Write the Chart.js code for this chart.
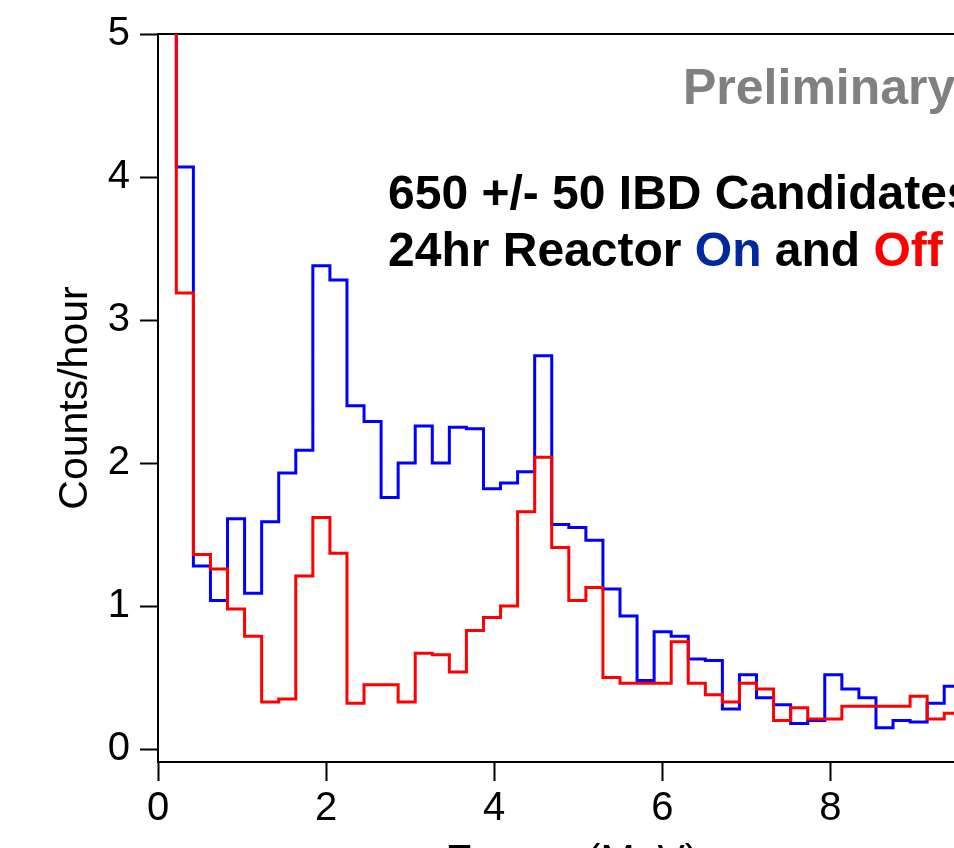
<!DOCTYPE html>
<html>
<head>
<meta charset="utf-8">
<title>IBD candidates - reactor on / off</title>
<script src="https://cdn.jsdelivr.net/npm/chart.js@4.4.1/dist/chart.umd.min.js"></script>
<style>
    html, body { margin: 0; padding: 0; background: #fff; overflow: hidden; }
    #wrap { position: relative; width: 986px; height: 848px; }
    .note {
        position: absolute;
        font-family: "Liberation Sans", Arial, sans-serif;
        font-weight: bold;
        font-size: 48px;
        line-height: 48px;
        white-space: nowrap;
        color: #000;
    }
</style>
</head>
<body>
<div id="wrap">
    <canvas id="spectrum" width="986" height="848"></canvas>
    <div class="note" style="left:683px; top:62px; font-size:50px; line-height:50px; color:#808080;">Preliminary</div>
    <div class="note" style="left:388px; top:169px;">650 +/- 50 IBD Candidates</div>
    <div class="note" style="left:388px; top:226px;">24hr Reactor <span style="color:#0028a0;">On</span> and <span style="color:#ff0000;">Off</span></div>
</div>
<script>
// bin edges in MeV (one more edge than bins)
const binEdges = [
    0.015, 0.218, 0.421, 0.624, 0.827, 1.030, 1.233, 1.436, 1.639, 1.842,
    2.045, 2.248, 2.451, 2.654, 2.857, 3.060, 3.263, 3.466, 3.669, 3.872,
    4.075, 4.278, 4.481, 4.684, 4.887, 5.090, 5.293, 5.496, 5.699, 5.902,
    6.105, 6.308, 6.511, 6.714, 6.917, 7.120, 7.323, 7.526, 7.729, 7.932,
    8.135, 8.338, 8.541, 8.744, 8.947, 9.150, 9.353, 9.556
];

// counts/hour, reactor on (first bin is off scale)
const reactorOn = [
    6.5, 4.07, 1.28, 1.04, 1.61, 1.09, 1.59, 1.93, 2.09, 3.38,
    3.28, 2.40, 2.29, 1.76, 2.00, 2.26, 2.00, 2.25, 2.24, 1.82,
    1.86, 1.94, 2.75, 1.57, 1.55, 1.46, 1.12, 0.93, 0.48, 0.82,
    0.79, 0.63, 0.62, 0.28, 0.52, 0.36, 0.31, 0.18, 0.20, 0.52,
    0.42, 0.36, 0.15, 0.20, 0.19, 0.32, 0.44
];

// counts/hour, reactor off
const reactorOff = [
    6.5, 3.19, 1.36, 1.26, 0.98, 0.79, 0.33, 0.35, 1.21, 1.62,
    1.37, 0.32, 0.45, 0.45, 0.33, 0.67, 0.66, 0.54, 0.83, 0.92,
    1.00, 1.66, 2.04, 1.41, 1.04, 1.13, 0.50, 0.46, 0.46, 0.46,
    0.75, 0.46, 0.38, 0.33, 0.46, 0.42, 0.20, 0.29, 0.21, 0.21,
    0.30, 0.30, 0.30, 0.30, 0.37, 0.21, 0.25
];

const xTicks = [0, 2, 4, 6, 8];
const yTicks = [0, 1, 2, 3, 4, 5];

const FONT = '"Liberation Sans", Arial, sans-serif';

// step points: left edge of each bin, plus the closing right edge
function toSteps(values) {
    const pts = values.map((v, i) => ({ x: binEdges[i], y: v }));
    pts.push({ x: binEdges[values.length], y: values[values.length - 1] });
    return pts;
}

const ctx = document.getElementById('spectrum').getContext('2d');
const chart = new Chart(ctx, {
    type: 'line',
    data: {
        datasets: [
            {
                label: 'Reactor On',
                data: toSteps(reactorOn),
                borderColor: '#0000ff',
                borderWidth: 3,
                stepped: 'before',
                pointRadius: 0,
                fill: false,
                clip: 0,
                order: 1
            },
            {
                label: 'Reactor Off',
                data: toSteps(reactorOff),
                borderColor: '#ff0000',
                borderWidth: 3,
                stepped: 'before',
                pointRadius: 0,
                fill: false,
                clip: 0,
                order: 0
            }
        ]
    },
    options: {
        responsive: false,
        animation: false,
        devicePixelRatio: 1,
        layout: { padding: 0 },
        plugins: {
            legend: { display: false },
            tooltip: { enabled: false }
        },
        scales: {
            x: {
                type: 'linear',
                position: 'bottom',
                min: 0,
                max: 9.85,
                afterFit: (s) => { s.height = 86; },
                afterBuildTicks: (s) => { s.ticks = xTicks.map(v => ({ value: v })); },
                grid: { drawOnChartArea: false, tickLength: 19, tickWidth: 2, tickColor: '#000' },
                border: { display: true, color: '#000', width: 2 },
                ticks: { color: '#000', font: { family: FONT, size: 40 }, padding: 4, maxRotation: 0, autoSkip: false },
                title: {
                    display: true,
                    text: 'Energy (MeV)',
                    color: '#000',
                    font: { family: FONT, size: 41 },
                    padding: { top: 0, bottom: -38 }
                }
            },
            xTop: {
                type: 'linear',
                position: 'top',
                min: 0,
                max: 9.85,
                afterFit: (s) => { s.height = 27; },
                grid: { display: false },
                ticks: { display: false },
                border: { display: true, color: '#000', width: 2 }
            },
            y: {
                type: 'linear',
                position: 'left',
                min: -0.09,
                max: 5,
                afterFit: (s) => { s.width = 158; },
                afterBuildTicks: (s) => { s.ticks = yTicks.map(v => ({ value: v })); },
                grid: { drawOnChartArea: false, tickLength: 18, tickWidth: 2, tickColor: '#000' },
                border: { display: true, color: '#000', width: 2 },
                ticks: { color: '#000', font: { family: FONT, size: 40 }, padding: 10 },
                title: {
                    display: true,
                    text: 'Counts/hour',
                    color: '#000',
                    font: { family: FONT, size: 41 },
                    padding: { top: 51, bottom: 0 }
                }
            }
        }
    }
});
</script>
</body>
</html>
